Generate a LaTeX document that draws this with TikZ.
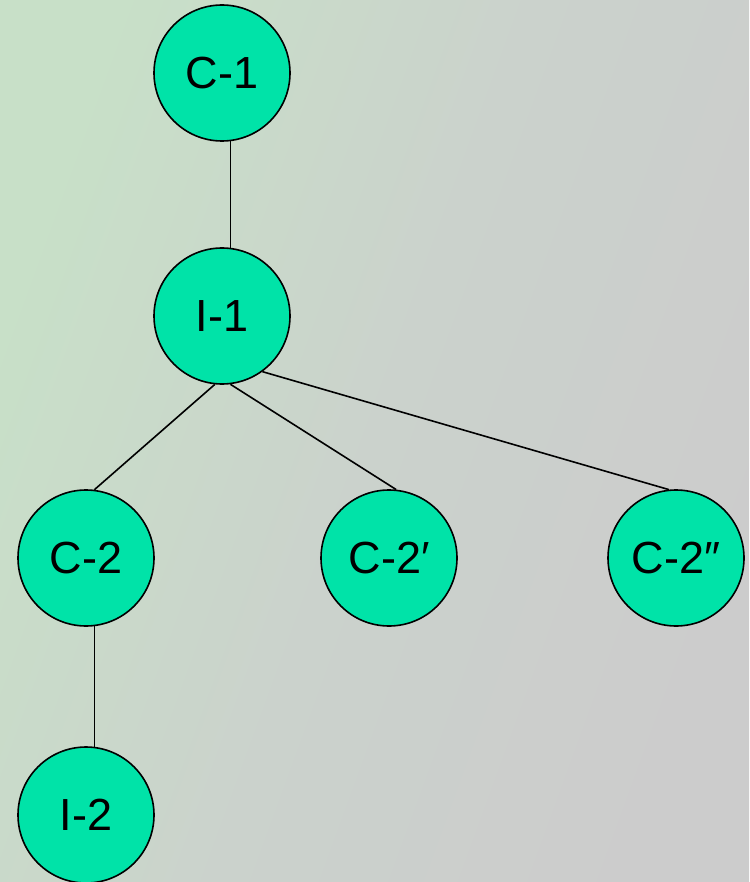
\documentclass[tikz,border=0pt]{standalone}
\usepackage{fontspec}
\setmainfont{Liberation Sans}
\definecolor{nodefill}{RGB}{0,227,168}
\definecolor{bgleft}{RGB}{200,224,200}
\definecolor{bgright}{RGB}{204,204,204}
\tikzset{
  vertex/.style={circle, draw=black, line width=1.6pt, fill=nodefill, minimum size=136pt, inner sep=0pt, font=\fontsize{45}{48}\selectfont},
  edge/.style={draw=black, line width=1.6pt}
}
\begin{document}
\begin{tikzpicture}[x=1pt,y=-1pt]
\shade[left color=bgleft, right color=bgright, middle color={rgb,255:red,203;green,210;blue,204}, shading angle=70] (0,0) rectangle (749,882);
\useasboundingbox (0,0) rectangle (749,882);
\node[vertex] (c1) at (222,73) {C-1};
\node[vertex] (i1) at (222,316) {I-1};
\node[vertex] (c2) at (86,558) {C-2};
\node[vertex] (c2p) at (389,558) {C-2′};
\node[vertex] (c2pp) at (676,558) {C-2″};
\node[vertex] (i2) at (86,815) {I-2};
\draw[edge] (c1.-83) -- (i1.83);
\draw[edge] (i1.-96) -- (c2.83);
\draw[edge] (i1.-83) -- (c2p.84);
\draw[edge] (i1.-54) -- (c2pp.96);
\draw[edge] (c2.-83) -- (i2.83);
\end{tikzpicture}
\end{document}
